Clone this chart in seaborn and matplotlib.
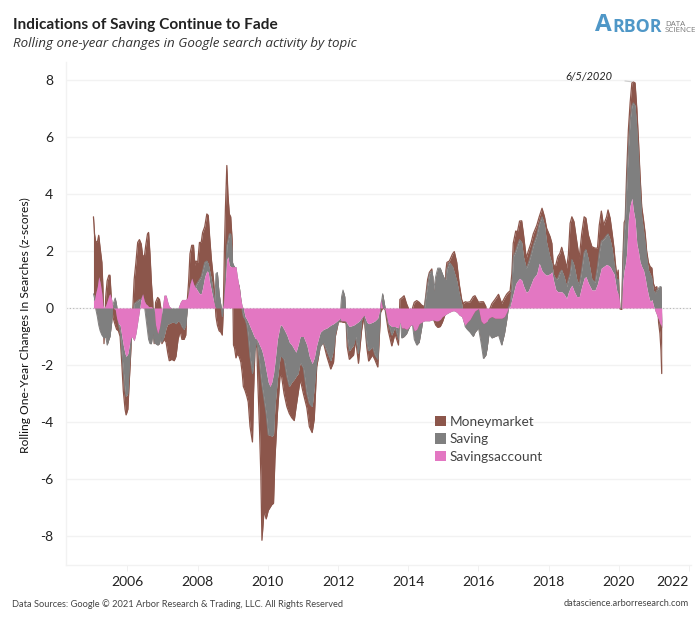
import matplotlib
matplotlib.use("Agg")
import matplotlib.pyplot as plt
from matplotlib.patches import Patch
import numpy as np
import pandas as pd
import seaborn as sns

# sample dates (decimal years)
years = [
 2005.03,2005.06,2005.09,2005.14,2005.18,2005.22,2005.27,2005.30,2005.33,2005.38,
 2005.42,2005.47,2005.50,2005.55,2005.58,2005.65,2005.69,2005.74,2005.79,2005.84,
 2005.88,2005.93,2005.96,2006.01,2006.045,2006.08,2006.12,2006.19,2006.24,2006.29,
 2006.34,2006.39,2006.43,2006.48,2006.52,2006.57,2006.60,2006.64,2006.68,2006.72,
 2006.76,2006.80,2006.86,2006.91,2006.95,2006.98,2007.04,2007.10,2007.15,2007.19,
 2007.26,2007.33,2007.38,2007.44,2007.50,2007.55,2007.61,2007.66,2007.70,2007.74,
 2007.78,2007.83,2007.88,2007.92,2007.95,2008.00,2008.05,2008.10,2008.14,2008.20,
 2008.26,2008.30,2008.34,2008.39,2008.45,2008.49,2008.52,2008.56,2008.61,2008.66,
 2008.70,2008.73,2008.76,2008.79,2008.83,2008.86,2008.90,2008.94,2008.98,2008.99,
 2009.02,2009.05,2009.09,2009.13,2009.18,2009.23,2009.27,2009.30,2009.35,2009.40,
 2009.44,2009.49,2009.56,2009.59,2009.63,2009.68,2009.71,2009.76,2009.80,2009.83,
 2009.89,2009.95,2010.01,2010.06,2010.11,2010.16,2010.20,2010.27,2010.35,2010.39,
 2010.46,2010.54,2010.61,2010.68,2010.75,2010.80,2010.86,2010.92,2011.01,2011.11,
 2011.18,2011.26,2011.32,2011.39,2011.49,2011.58,2011.68,2011.79,2011.87,2011.92,
 2012.01,2012.06,2012.08,2012.10,2012.14,2012.19,2012.23,2012.26,2012.32,2012.44,
 2012.50,2012.58,2012.67,2012.74,2012.82,2012.87,2012.98,2013.05,2013.13,2013.18,
 2013.21,2013.27,2013.34,2013.43,2013.53,2013.62,2013.72,2013.76,2013.81,2013.88,
 2013.95,2014.00,2014.06,2014.12,2014.17,2014.24,2014.31,2014.38,2014.46,2014.50,
 2014.55,2014.60,2014.67,2014.70,2014.72,2014.78,2014.84,2014.91,2014.97,2015.04,
 2015.07,2015.10,2015.17,2015.26,2015.31,2015.38,2015.45,2015.52,2015.57,2015.62,
 2015.68,2015.76,2015.85,2015.90,2016.00,2016.07,2016.14,2016.21,2016.24,2016.30,
 2016.38,2016.47,2016.57,2016.66,2016.74,2016.80,2016.85,2016.90,2016.95,2016.99,
 2017.06,2017.11,2017.17,2017.23,2017.28,2017.36,2017.42,2017.50,2017.56,2017.66,
 2017.73,2017.81,2017.88,2017.94,2018.04,2018.09,2018.13,2018.20,2018.26,2018.32,
 2018.37,2018.44,2018.51,2018.56,2018.61,2018.66,2018.72,2018.80,2018.87,2018.94,
 2019.01,2019.06,2019.13,2019.23,2019.32,2019.39,2019.44,2019.50,2019.56,2019.65,
 2019.69,2019.75,2019.81,2019.86,2019.89,2019.94,2019.98,2020.01,2020.03,2020.08,
 2020.11,2020.15,2020.18,2020.22,2020.27,2020.32,2020.37,2020.41,2020.46,2020.51,
 2020.56,2020.60,2020.65,2020.70,2020.75,2020.79,2020.84,2020.89,2020.94,2020.98,
 2021.03,2021.08,2021.11,2021.13,2021.17,2021.20,2021.22,
]

# stacked edges of the three topics, z-scores
savingsaccount_edge = [
 .25,.3,.5,.75,1.1,.9,.5,.1,0,.1,
 .25,.45,.5,.3,0,-.05,-.35,-.55,-.6,-1.0,
 -1.3,-1.6,-1.7,-1.6,-1.35,-1.1,-1.0,-1.15,-.9,-.5,
 -.1,.35,.5,.25,.15,.1,.05,.05,.05,0,
 0,-.6,-.9,-.7,-.4,-.1,.45,.45,.2,.05,
 0,0,0,0,.2,.3,.3,.3,.35,.55,
 .85,1.05,.85,.75,.7,.6,.5,.5,.7,1.1,
 1.3,1.25,.9,.6,.25,.05,0,0,0,0,
 0,.1,.6,1.0,1.7,1.8,1.5,1.45,1.45,1.45,
 1.45,1.45,1.45,1.1,.75,.3,.05,0,-.3,-.4,
 -.5,-.65,-.85,-.95,-1.05,-1.1,-1.15,-1.3,-1.4,-1.5,
 -1.8,-2.2,-2.6,-2.75,-2.6,-2.3,-1.9,-1.1,-.6,-.6,
 -.75,-.95,-1.2,-1.3,-1.45,-1.55,-1.3,-1.0,-1.0,-1.3,
 -1.7,-1.95,-1.75,-1.3,-.85,-.75,-.7,-.6,-.55,-.5,
 -.42,-.35,-.45,-.45,-.45,-.45,-.48,-.55,-.65,-.6,
 -.55,-.48,-.35,-.25,-.5,-.55,-.5,-.45,-.35,-.1,
 .3,0,-.05,-.55,-.65,-.65,-.7,-.5,-.7,-.7,
 -.75,-.7,-.6,-.6,-.8,-.75,-.55,-.5,-.45,-.45,
 -.45,-.45,-.42,-.42,-.42,-.45,-.45,-.4,-.3,-.25,
 -.22,-.2,-.15,-.1,-.1,-.15,-.25,-.3,-.5,-.6,
 -.5,-.4,-.2,-.1,-.02,-.45,-.55,-.5,-.45,-.35,
 -.3,-.36,-.36,-.36,-.3,-.15,0,.05,.3,.5,
 .85,.95,1.04,.98,.78,.55,.6,.85,1.04,1.2,
 1.57,1.3,1.2,1.15,1.2,1.27,1.0,.65,.57,.57,
 .57,.48,.34,.55,.7,.8,.6,.4,.4,.75,
 1.05,1.1,.87,.63,.63,.85,1.1,1.4,1.45,1.53,
 1.5,1.45,1.3,1.2,.98,.6,.5,.3,0,0,
 .9,1.33,1.5,1.9,3.1,3.6,3.85,3.44,3.1,2.27,
 1.95,1.63,1.45,1.33,1.05,.75,.45,.22,.3,.1,
 -.1,-.25,-.35,-.4,-.55,-.6,-.7,
]
saving_edge = [
 .5,.35,0,-.3,-.6,-.8,-.95,-1.0,-1.05,-1.0,
 -1.3,-1.1,-1.0,-.5,.1,.35,.1,-.55,-.85,-1.6,
 -2.2,-2.9,-3.1,-3.0,-2.2,-1.5,-.85,.15,.2,.25,
 .3,.3,.4,.1,-.3,-.8,-1.1,-1.25,-1.25,-.9,
 -1.2,-1.25,-1.3,-1.25,-1.0,-1.2,-1.0,-.7,-.55,-.55,
 -.5,-.5,-.55,-.45,-.5,-.65,-.75,-.6,-.1,.35,
 .7,.9,.75,.65,.8,.9,1.0,1.1,1.3,1.6,
 1.65,1.55,1.3,1.0,.5,.2,1.2,1.25,.5,.1,
 -.3,0,.3,1.0,2.2,2.35,2.6,2.6,2.0,1.6,
 1.5,1.45,1.0,.8,.8,.3,-.1,-.3,-.4,-.6,
 -1.0,-1.7,-2.3,-2.0,-1.5,-1.1,-1.4,-1.9,-2.4,-2.7,
 -3.2,-3.7,-4.45,-4.45,-4.5,-4.45,-3.46,-2.5,-1.7,-1.7,
 -1.8,-2.4,-2.75,-2.6,-2.5,-2.4,-2.3,-1.9,-2.1,-3.0,
 -3.35,-3.46,-2.8,-1.9,-1.35,-1.2,-1.5,-1.85,-1.47,-.9,
 -.45,-.45,.1,.4,.63,.4,-.5,-1.0,-1.5,-1.3,
 -1.0,-1.6,-.42,-.25,-1.24,-1.5,-1.36,-1.65,-1.8,-.6,
 0,.5,0,-.55,-.95,-.65,-1.1,0,-1.05,-1.0,
 -.9,-.75,-.6,-.6,-1.1,-1.3,-1.2,-.7,0,.4,
 .8,1.2,1.3,1.1,.6,1.1,1.4,1.4,1.2,1.0,
 1.0,1.35,1.6,1.45,1.25,.95,.5,.15,-.3,-.65,
 -.75,-.85,-1.0,-.85,-.7,-1.2,-1.77,-1.65,-1.45,-.9,
 -1.05,-1.0,-.95,-1.3,-.9,-.45,0,.15,.7,1.8,
 2.0,2.2,2.4,2.3,1.8,1.4,1.57,1.9,2.2,2.55,
 2.95,3.2,2.9,2.3,1.75,1.57,1.2,1.0,1.05,1.25,
 1.33,1.1,.75,1.0,1.2,1.7,1.5,1.0,.8,1.33,
 1.95,2.05,1.7,1.0,.9,1.45,1.95,2.35,2.4,2.55,
 2.6,2.4,2.05,1.57,1.35,1.0,1.0,.3,0,0,
 1.4,2.6,3.0,4.2,5.6,6.6,7.1,7.2,7.1,6.3,
 5.3,4.2,3.2,2.74,2.27,1.8,1.33,1.2,1.04,.63,
 .5,.63,.65,.7,.75,.75,-.5,
]
moneymarket_edge = [
 3.2,2.6,2.35,2.3,2.55,2.1,1.6,.7,-1.25,.4,
 .95,1.15,1.15,.1,-.3,-.6,-.75,-.8,-1.0,-2.0,
 -2.9,-3.55,-3.75,-3.55,-2.7,-1.9,-.85,1.0,1.6,2.3,
 2.4,2.25,1.85,1.8,2.2,2.6,2.65,1.9,.9,.2,
 -1.25,.2,.37,.3,0,-1.25,-1.1,-1.2,-1.6,-1.85,
 -1.8,-1.85,-1.7,-1.1,-.8,-1.1,-1.1,-.95,.2,.9,
 1.9,2.2,2.2,1.5,1.65,1.6,2.3,2.3,2.65,2.85,
 3.3,3.25,2.5,1.7,1.0,.3,-.3,-.6,-.8,-.85,
 -.95,0,2.0,3.5,5.0,4.0,3.3,3.2,2.4,1.6,
 -1.3,-1.4,-1.75,-1.6,-1.7,-1.9,-2.3,-2.75,-2.9,-3.1,
 -3.3,-4.15,-4.7,-3.0,-1.5,-1.15,-2.5,-4.2,-5.9,-8.15,
 -7.1,-7.4,-7.1,-7.0,-6.9,-6.85,-5.3,-3.7,-2.3,-2.4,
 -3.0,-3.46,-3.7,-3.85,-3.95,-3.5,-3.0,-2.5,-3.0,-3.5,
 -4.16,-4.37,-3.9,-2.06,-1.36,-1.2,-1.7,-2.14,-1.9,-1.0,
 -.48,-.48,-.48,-.48,-.5,-.5,-.54,-1.36,-1.8,-1.65,
 -1.1,-1.94,-.77,-.27,-1.4,-1.86,-1.65,-1.82,-2.07,-.9,
 -.15,0,-.05,-.8,-1.33,-.9,-1.3,.3,.35,.43,
 .15,0,-.6,0,.2,.26,.2,.1,.05,.45,
 1.0,1.25,1.37,.2,-.4,-.6,-.68,-.65,-.5,-.25,
 1.3,1.6,1.65,1.9,1.98,1.6,.85,.3,.15,.22,
 .2,.22,.4,.43,.2,.22,.22,.05,-1.45,-.1,
 .15,.3,.48,.16,.35,.48,.55,.6,1.2,2.27,
 2.7,2.68,3.05,3.06,2.6,1.75,2.0,2.3,2.6,2.9,
 3.2,3.5,3.2,2.8,2.5,2.27,1.5,1.5,1.8,1.92,
 2.13,1.8,1.4,1.86,2.97,3.2,3.03,2.33,1.75,2.6,
 3.2,3.15,2.56,2.15,2.1,2.1,2.9,3.4,2.9,3.2,
 3.44,3.15,2.6,2.1,1.68,1.1,1.33,.4,-.03,-.05,
 1.6,3.0,3.1,4.7,6.25,7.2,7.9,7.93,7.9,7.0,
 5.8,4.7,3.55,3.1,2.6,2.0,1.6,1.45,1.4,.87,
 .7,.75,.1,-.5,-.9,-1.5,-2.3,
]
topics = ["Moneymarket", "Saving", "Savingsaccount"]
topic_colors = ["#8c564b", "#7f7f7f", "#e377c2"]
x_ticks = [2006, 2008, 2010, 2012, 2014, 2016, 2018, 2020, 2022]
y_ticks = [-8, -6, -4, -2, 0, 2, 4, 6, 8]

df = pd.DataFrame({"year": years, "Savingsaccount": savingsaccount_edge,
                   "Saving": saving_edge, "Moneymarket": moneymarket_edge})
W, H = 700, 622
sns.set_theme(style="white")
plt.rcParams["font.family"] = ["Lato", "DejaVu Sans"]
plt.rcParams["axes.unicode_minus"] = False
OPEN = ["Open Sans", "DejaVu Sans"]

fig = plt.figure(figsize=(W/100, H/100), dpi=100)
L, R, T, B = 65.7, 690.7, 62.0, 565.0
ax = fig.add_axes([L/W, 1-B/H, (R-L)/W, (B-T)/H])
x0 = 2006 + (L-127.5)/35.1
x1 = 2006 + (R-127.5)/35.1
ax.set_xlim(x0, x1)
ax.set_ylim((308-B)/28.5, (308-T)/28.5)

ax.yaxis.grid(True, color="#f2f2f2", lw=1)
ax.set_axisbelow(True)
ax.axhline(0, color="#b5b5b5", lw=.8, ls=(0, (1, 2)), zorder=1)

ax.fill_between(df.year, df.Saving, df.Moneymarket, color=topic_colors[0], lw=0, zorder=2)
sns.lineplot(data=df, x="year", y="Moneymarket", color=topic_colors[0], lw=.9,
             ax=ax, zorder=2.1, estimator=None, sort=False)
ax.fill_between(df.year, df.Savingsaccount, df.Saving, color=topic_colors[1], lw=0, zorder=3)
sns.lineplot(data=df, x="year", y="Saving", color=topic_colors[1], lw=.7,
             ax=ax, zorder=3.1, estimator=None, sort=False)
ax.fill_between(df.year, 0, df.Savingsaccount, color=topic_colors[2], lw=0, zorder=4)

ax.set_xticks(x_ticks)
ax.set_yticks(y_ticks)
ax.set_xlabel("")
ax.set_ylabel("Rolling One-Year Changes In Searches (z-scores)", fontsize=8.65,
              color="#111111")
ax.yaxis.set_label_coords((31-L)/(R-L), (B-325)/(B-T))
ax.tick_params(axis="x", length=4, width=.7, color="#f0f0f0", labelsize=10,
               labelcolor="#222222", pad=4, bottom=True)
ax.tick_params(axis="y", length=0, labelsize=10, labelcolor="#222222", pad=9)
ax.get_xticklabels()[-1].set_ha("right")
for s in ["top", "right"]:
    ax.spines[s].set_visible(False)
for s in ["left", "bottom"]:
    ax.spines[s].set_color("#f2f2f2")
    ax.spines[s].set_linewidth(1)

ax.annotate("6/5/2020", xy=(years[int(np.argmax(moneymarket_edge))], max(moneymarket_edge)),
            xytext=(565, H-82), textcoords="figure pixels", fontsize=7.9, style="italic",
            color="#222222", ha="left", va="bottom", zorder=6,
            arrowprops=dict(arrowstyle="-", color="#cccccc", lw=.8, shrinkA=7, shrinkB=1))

handles = [Patch(facecolor=c, edgecolor="none", label=t) for c, t in zip(topic_colors, topics)]
fig.legend(handles=handles, loc="upper left", bbox_to_anchor=(435/W, 1-415.5/H), frameon=False,
           fontsize=9.8, labelcolor="#444444", handlelength=.8, handleheight=.8,
           handletextpad=.3, labelspacing=.42, borderpad=0, borderaxespad=0)

fig.text(13/W, 1-25/H, "Indications of Saving Continue to Fade", fontsize=11.05,
         fontweight="bold", color="#222222", va="center", family=["Lato", "DejaVu Sans"])
fig.text(13/W, 1-43/H, "Rolling one-year changes in Google search activity by topic",
         fontsize=9.6, style="italic", color="#333333", va="center", family=OPEN)
fig.text(12/W, 1-604/H, "Data Sources: Google \u00a9 2021 Arbor Research & Trading, LLC. All Rights Reserved",
         fontsize=6.65, color="#444444", va="center")
fig.text(689/W, 1-604/H, "datascience.arborresearch.com", fontsize=6.65, color="#444444",
         va="center", ha="right")

LOGO = "#4f97c7"
fig.text(595/W, 1-25/H, "A", fontsize=17.5, color=LOGO, fontweight="bold", va="center", family=OPEN)
fig.text(612/W, 1-27/H, "RBOR", fontsize=12.8, color=LOGO, fontweight="bold", va="center", family=OPEN)
fig.text(665/W, 1-24/H, "DATA", fontsize=5.8, color="#777777", va="center", family=OPEN)
fig.text(665/W, 1-31/H, "SCIENCE", fontsize=5.8, color="#777777", va="center", family=OPEN)

fig.savefig("out.png", dpi=100, facecolor="white")
